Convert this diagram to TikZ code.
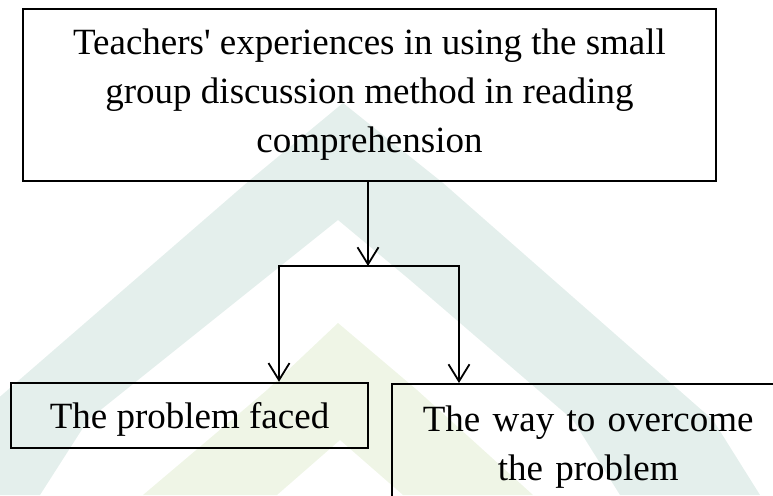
\documentclass[tikz,border=0pt]{standalone}
\usepackage{fontspec}
\setmainfont{Liberation Serif}
\usepackage{xcolor}
\usepackage{tikz}
\usetikzlibrary{arrows.meta,positioning}
\definecolor{wmteal}{RGB}{228,239,236}
\definecolor{wmyellow}{RGB}{239,245,230}

\begin{document}
\begin{tikzpicture}[
  x=1pt, y=-1pt,
  box/.style={rectangle, draw, line width=2.4pt, inner sep=0pt, align=center, font=\fontsize{37}{49}\selectfont},
  arr/.style={-{Straight Barb[length=17pt,width=21pt]}, line width=1.8pt}
]
\clip (0,0) rectangle (773,495);
% watermark
\fill[wmteal] (343,103) -- (443,183) -- (713,420) -- (760,495) -- (620,495) -- (573,420) -- (410,280) -- (338,220)
  -- (88,420) -- (40,495) -- (-20,495) -- (-20,414) -- (250,180) -- cycle;
\fill[wmyellow] (338,323) -- (417,390) -- (533,495) -- (403,495) -- (340,440) -- (277,495) -- (143,495) -- (267,390) -- cycle;

\node[box, minimum width=693pt, minimum height=172pt] (exp) at (369.5,95)
  {Teachers\textquotesingle{} experiences in using the small\\group discussion method in reading\\comprehension};
\node[box, minimum width=357pt, text height=45pt, text depth=20pt] (prob) at (189.5,415.5) {The problem faced};
\node[box, anchor=north west, minimum width=392pt, minimum height=125pt, text width=392pt] (way) at (391,383)
  {The way to overcome\\the problem};

\coordinate (split)  at (368,266);
\coordinate (splitl) at (279,266);
\coordinate (splitr) at (459,266);

\draw[arr] (exp.south -| split) -- (split);
\draw[arr] (splitr) -- (splitl) -- (prob.north -| splitl);
\draw[arr] (splitl) -- (splitr) -- (way.north -| splitr);
\end{tikzpicture}
\end{document}
